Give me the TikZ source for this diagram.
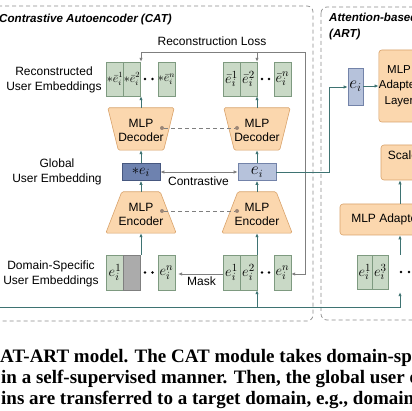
\documentclass[tikz,border=0pt]{standalone}
\usepackage{fontspec}
\setmainfont{Liberation Sans}
\newfontfamily\capfont{Liberation Serif}
\usetikzlibrary{arrows.meta,calc}
\definecolor{cellfill}{HTML}{C9D9C6}
\definecolor{cellline}{HTML}{7E9A80}
\definecolor{maskfill}{HTML}{ABABAB}
\definecolor{maskline}{HTML}{7F7F7F}
\definecolor{orfill}{HTML}{FBD7AE}
\definecolor{orline}{HTML}{D9A36B}
\definecolor{gfill}{HTML}{6E82AF}
\definecolor{gline}{HTML}{46577F}
\definecolor{efill}{HTML}{B6C2DB}
\definecolor{eline}{HTML}{7383A9}
\definecolor{tealc}{HTML}{3E7372}
\definecolor{grayc}{HTML}{7F7F7F}
\definecolor{boxc}{HTML}{8C8C8C}
\definecolor{dotc}{HTML}{9C8676}
\begin{document}
\begin{tikzpicture}[x=1pt,y=-1pt,
  lab/.style={font=\fontsize{12}{15}\selectfont, align=center, inner sep=0pt},
  mtext/.style={font=\fontsize{12}{14}\selectfont, align=center, inner sep=0pt},
  atext/.style={font=\fontsize{11.5}{15.5}\selectfont, align=center, inner sep=0pt},
  cell/.style={draw=cellline, fill=cellfill, minimum width=17pt, minimum height=35pt, inner sep=0pt, line width=0.6pt, font=\fontsize{15}{15}\selectfont},
  rcell/.style={cell, minimum height=34pt},
  acell/.style={cell, minimum width=15.5pt, minimum height=34pt},
  masked/.style={cell, draw=maskline, fill=maskfill},
  grp/.style={minimum width=68pt, minimum height=35pt, inner sep=0pt},
  tzbox/.style={inner sep=0pt},
  orbox/.style={draw=orline, fill=orfill, line width=0.6pt, rounded corners=1.5pt},
  obox/.style={draw=orline, fill=orfill, line width=0.6pt, rounded corners=3pt, inner sep=0pt},
  arr/.style={draw=tealc, line width=0.8pt, -{Latex[length=4pt,width=3.4pt]}},
  garr/.style={draw=grayc, line width=0.8pt, -{Latex[length=4pt,width=3.4pt]}},
  blackdot/.style={circle, fill=black, inner sep=0pt, minimum size=2.8pt},
  sharedot/.style={circle, fill=dotc, inner sep=0pt, minimum size=4pt},
  shared/.style={draw=grayc, line width=0.7pt, dash pattern=on 4pt off 3pt},
  dbox/.style={draw=boxc, line width=0.7pt, dash pattern=on 4pt off 3pt, rounded corners=6pt},
  capt/.style={font=\capfont\bfseries\fontsize{19}{22}\selectfont, inner sep=0pt, anchor=base west}
]
\useasboundingbox (0,0) rectangle (412,411);
\clip (0,0) rectangle (412,411);
\fill[white] (0,0) rectangle (412,411);

% dashed module boxes
\draw[dbox] (-20,6) rectangle (313,321);
\draw[dbox] (321,7) rectangle (460,320);

% titles
\node[anchor=west, inner sep=0pt, font=\fontsize{11.6}{14}\selectfont\bfseries\itshape] (tcat) at (-1,20) {Contrastive Autoencoder (CAT)};
\node[anchor=west, inner sep=0pt, font=\fontsize{11.6}{14}\selectfont\bfseries\itshape] (tart1) at (329,19) {Attention-based Representation Transfer};
\node[anchor=west, inner sep=0pt, font=\fontsize{11.6}{14}\selectfont\bfseries\itshape] (tart2) at (329,35) {(ART)};

% left labels
\node[lab] (l1) at (54,79.5) {Reconstructed\\User Embeddings};
\node[lab] (l2) at (57,172) {Global\\User Embedding};
\node[lab] (l3) at (51,274) {Domain-Specific\\User Embeddings};

% ---------- group anchors
\node[grp, minimum height=34pt] (rL) at (141,79) {};
\node[grp, minimum height=34pt] (rR) at (257,79) {};
\node[grp] (dL) at (141,272.5) {};
\node[grp] (dR) at (257,272.5) {};

% reconstructed (left)
\node[rcell, font=\fontsize{11.5}{12}\selectfont] (rl1) at (115,79) {${*}\bar e_i^1$};
\node[rcell, font=\fontsize{11.5}{12}\selectfont] (rl2) at (132,79) {${*}\bar e_i^2$};
\node[blackdot] (rld1) at (145,79) {};
\node[blackdot] (rld2) at (152.5,79) {};
\node[rcell, font=\fontsize{11.5}{12}\selectfont] (rl3) at (166.5,79) {${*}\bar e_i^n$};
% reconstructed (right)
\node[rcell] (rr1) at (231.5,79) {$\bar e_i^1$};
\node[rcell] (rr2) at (248.5,79) {$\bar e_i^2$};
\node[blackdot] (rrd1) at (262,79) {};
\node[blackdot] (rrd2) at (269,79) {};
\node[rcell] (rr3) at (282.5,79) {$\bar e_i^n$};

% domain-specific (left, masked)
\node[cell] (dl1) at (115,272.5) {$e_i^1$};
\node[masked] (dl2) at (132,272.5) {};
\node[blackdot] (dld1) at (145,272.5) {};
\node[blackdot] (dld2) at (152.5,272.5) {};
\node[cell] (dl3) at (166.5,272.5) {$e_i^n$};
% domain-specific (right)
\node[cell] (dr1) at (231.5,272.5) {$e_i^1$};
\node[cell] (dr2) at (248.5,272.5) {$e_i^2$};
\node[blackdot] (drd1) at (262,272.5) {};
\node[blackdot] (drd2) at (269,272.5) {};
\node[cell] (dr3) at (282.5,272.5) {$e_i^n$};

% decoders
\node[tzbox, minimum width=66pt, minimum height=42pt] (decL) at (141,129) {};
\path[orbox] (decL.north west) -- (decL.north east) -- ($(decL.south east)+(-10.5,0)$) -- ($(decL.south west)+(10.5,0)$) -- cycle;
\node[mtext] (decLt) at (141,130) {MLP\\Decoder};
\node[tzbox, minimum width=66pt, minimum height=42pt] (decR) at (257,129) {};
\path[orbox] (decR.north west) -- (decR.north east) -- ($(decR.south east)+(-10.5,0)$) -- ($(decR.south west)+(10.5,0)$) -- cycle;
\node[mtext] (decRt) at (257,130) {MLP\\Decoder};

% encoders
\node[tzbox, minimum width=70pt, minimum height=41pt] (encL) at (141,212.5) {};
\path[orbox] (encL.south west) -- (encL.south east) -- ($(encL.north east)+(-16,0)$) -- ($(encL.north west)+(16,0)$) -- cycle;
\node[mtext] (encLt) at (141,214.5) {MLP\\Encoder};
\node[tzbox, minimum width=70pt, minimum height=41pt] (encR) at (257,212.5) {};
\path[orbox] (encR.south west) -- (encR.south east) -- ($(encR.north east)+(-16,0)$) -- ($(encR.north west)+(16,0)$) -- cycle;
\node[mtext] (encRt) at (257,214.5) {MLP\\Encoder};

% global embeddings
\node[draw=gline, fill=gfill, line width=0.6pt, minimum width=38pt, minimum height=17pt, inner sep=0pt, font=\fontsize{15}{15}\selectfont] (gL) at (141,172) {${*}e_i$};
\node[draw=eline, fill=efill, line width=0.6pt, minimum width=38pt, minimum height=17pt, inner sep=0pt, font=\fontsize{16}{16}\selectfont] (gR) at (257,172) {$e_i$};

% vertical flow arrows
\draw[arr] (dL.north) -- (encL.south);
\draw[arr] (encL.north) -- (gL.south);
\draw[arr] (gL.north) -- (decL.south);
\draw[arr] (decL.north) -- (rL.south);
\draw[arr] (dR.north) -- (encR.south);
\draw[arr] (encR.north) -- (gR.south);
\draw[arr] (gR.north) -- (decR.south);
\draw[arr] (decR.north) -- (rR.south);

% shared weights
\node[sharedot] (sd1) at (162,128) {};
\node[sharedot] (sd2) at (237,128) {};
\draw[shared] (sd1) -- (sd2);
\node[sharedot] (se1) at (162,211) {};
\node[sharedot] (se2) at (237,211) {};
\draw[shared] (se1) -- (se2);

% contrastive
\draw[garr, {Latex[length=4pt,width=3.4pt]}-{Latex[length=4pt,width=3.4pt]}] (gL.east) -- (gR.west);
\node[lab] (lcon) at (198.5,181.5) {Contrastive};

% reconstruction loss
\coordinate (lt) at (141,52);
\coordinate (rt) at (305,52);
\coordinate (rb) at (305,274);
\draw[garr, {Latex[length=4pt,width=3.4pt]}-{Latex[length=4pt,width=3.4pt]}] (rL.north) -- (lt) -- (rt) -- (rb) -- (rb -| dR.east);
\draw[garr] (rR.north |- lt) -- (rR.north);
\node[lab] (lloss) at (212,41) {Reconstruction Loss};

% mask
\draw[garr, line width=0.6pt] ($(dR.west)+(0,1.5)$) -- ($(dL.east)+(3,1.5)$);
\node[lab] (lmask) at (201.5,281.5) {Mask};

% ART module
\node[draw=eline, fill=efill, line width=0.6pt, minimum width=15pt, minimum height=37pt, inner sep=0pt, font=\fontsize{18}{18}\selectfont] (eA) at (355.5,86.5) {$e_i$};
\node[obox, minimum width=38pt, minimum height=72pt, atext] (aL) at (399,86) {MLP\\Adapter\\Layer};
\node[obox, minimum width=118pt, minimum height=35pt, mtext, font=\fontsize{12}{15}\selectfont] (sc) at (440,162.5) {Scaled Dot-Product\\Attention};
\node[obox, minimum width=126pt, minimum height=31pt, mtext] (ad) at (403,219.5) {MLP Adapter Layer};
\node[grp, minimum width=86pt, minimum height=34pt] (aG) at (400,272) {};
\node[acell] (a1) at (364.75,272) {$e_i^1$};
\node[acell] (a2) at (380.25,272) {$e_i^3$};
\node[blackdot] (ad1) at (401,272) {};
\node[blackdot] (ad2) at (409,272) {};

\coordinate (c1) at (329,172);
\coordinate (c2) at (329,87);
\draw[arr] (gR.east) -- (c1) -- (c2) -- (eA.west |- c2);
\draw[arr] (eA.east |- aL.west) -- (aL.west);
\draw[arr] (ad.north -| aG.north) -- (sc.south -| aG.north);
\draw[arr] (aG.north) -- (ad.south -| aG.north);

% input line
\coordinate (bl) at (-5,307);
\coordinate (br) at (400,307);
\draw[arr] (bl) -- (br) -- ($(aG.south)+(0,3)$);
\draw[arr] (dR.south |- bl) -- (dR.south);

% caption
\node[capt] (cap1) at (0,362) {AT-ART model. The CAT module takes domain-specific};
\node[capt] (cap2) at (1,383) {in a self-supervised manner. Then, the global user embedding};
\node[capt] (cap3) at (1,404) {ins are transferred to a target domain, e.g., domain};
\end{tikzpicture}
\end{document}
